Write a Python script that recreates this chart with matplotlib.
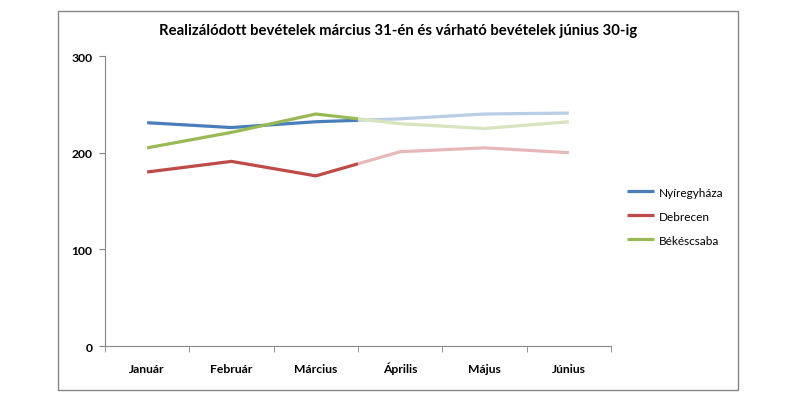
import numpy as np
import matplotlib
matplotlib.use("Agg")
import matplotlib.pyplot as plt
from matplotlib.patches import Rectangle

months = ["Január", "Február", "Március", "Április", "Május", "Június"]
series_names = ["Nyíregyháza", "Debrecen", "Békéscsaba"]
nyiregyhaza = [231, 226, 232, 235, 240, 241]
debrecen = [180, 191, 176, 201, 205, 200]
bekescsaba = [205, 221, 240, 230, 225, 232]
colors = ["#4A7EBB", "#BE4B48", "#98B954"]
faded = ["#B9CDE5", "#E6B9B8", "#D7E4BD"]

plt.rcParams['font.family'] = ['Lato', 'DejaVu Sans']

fig = plt.figure(figsize=(7.88, 4.14), dpi=100)
ax = fig.add_axes([0.1332, 0.1618, 0.6422, 0.7005])

x = np.arange(len(months))
split = 2.5  # actual values until end of March, forecast afterwards
for vals, c, fc, name in zip([nyiregyhaza, debrecen, bekescsaba], colors, faded, series_names):
    mid = (vals[2] + vals[3]) / 2
    ax.plot(list(x[:3]) + [split], vals[:3] + [mid], color=c, lw=2.3,
            solid_capstyle="butt", label=name, zorder=3)
    ax.plot([split] + list(x[3:]), [mid] + vals[3:], color=fc, lw=2.3,
            solid_capstyle="butt", zorder=2)

ax.set_xlim(-0.5, 5.5)
ax.set_ylim(0, 300)
ax.set_yticks([0, 100, 200, 300])
ax.set_xticks(x)
ax.set_xticklabels(months, fontsize=8.7, fontweight="bold")
ax.set_xticks(np.arange(-0.5, 6, 1), minor=True)
ax.tick_params(axis="x", which="major", length=0, pad=19)
ax.tick_params(axis="x", which="minor", length=4, color="#868686")
ax.tick_params(axis="y", length=4, color="#868686", labelsize=8.7, pad=5)
for lab in ax.get_xticklabels():
    lab.set_verticalalignment("baseline")
for lab in ax.get_yticklabels():
    lab.set_fontweight("bold")
for s in ["top", "right"]:
    ax.spines[s].set_visible(False)
for s in ["left", "bottom"]:
    ax.spines[s].set_color("#868686")

fig.text(0.505, 0.925, "Realizálódott bevételek március 31-én és várható bevételek június 30-ig",
         ha="center", va="center", fontsize=10.7, fontweight="bold")

ax.legend(loc="center left", bbox_to_anchor=(1.01, 0.448), frameon=False, fontsize=8.5,
          handlelength=2.3, handletextpad=0.4, labelspacing=1.1)

fig.patches.append(Rectangle((0.0736, 0.0556), 0.863, 0.9155, transform=fig.transFigure,
                             fill=False, edgecolor="#868686", lw=1))

fig.savefig("out.png", dpi=100)
